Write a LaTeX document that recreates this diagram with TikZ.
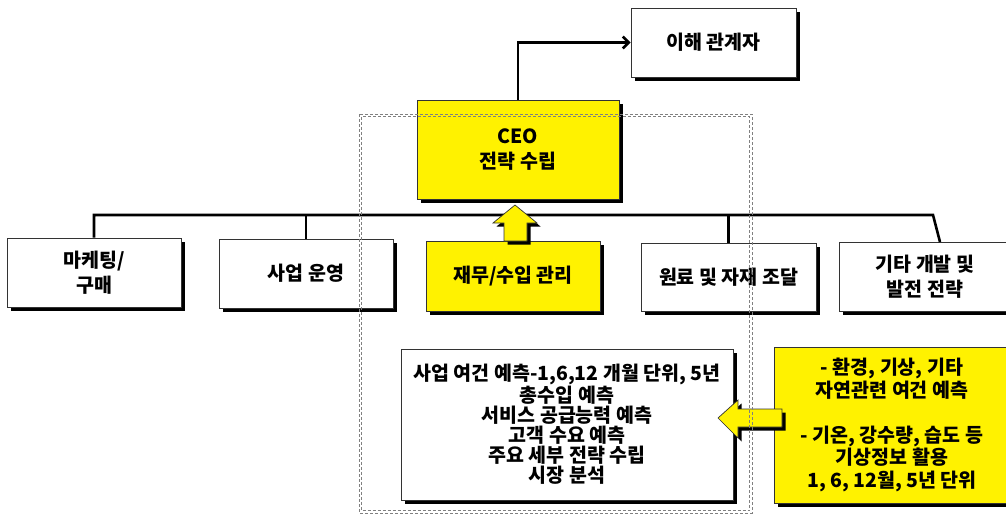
\documentclass[tikz,border=0pt]{standalone}
\usepackage{fontspec}
\setmainfont{Noto Sans CJK KR}
\usetikzlibrary{shadows,arrows.meta}
\tikzset{
  shad/.style={drop shadow={shadow xshift=3.5pt, shadow yshift=-3.5pt, fill=black, opacity=1}},
  box/.style={shad, draw=black!80, line width=0.7pt, fill=white, align=center, inner sep=2pt,
    font=\bfseries\fontsize{19.5}{24.5}\selectfont},
  ybox/.style={box, fill=yellow},
  conn/.style={line width=2.6pt, draw=black},
  barrow/.style={shad, draw=black!80, line width=0.7pt, fill=yellow, line join=miter},
  dbox/.style={draw=black!50, line width=0.6pt, dash pattern=on 3pt off 2pt},
}
\begin{document}
\begin{tikzpicture}[x=1pt,y=-1pt]
\useasboundingbox (0,0) rectangle (1006,517);
% nodes
\node[box, minimum width=165pt, minimum height=69pt] (stake) at (713.5,42.5) {이해 관계자};
\node[ybox, minimum width=202pt, minimum height=99pt] (ceo) at (518,149.5) {CEO\\전략 수립};
\node[box, minimum width=174pt, minimum height=69pt] (mkt) at (94,272.5) {마케팅/\\구매};
\node[box, minimum width=174pt, minimum height=69pt] (ops) at (306,273.5) {사업 운영};
\node[ybox, minimum width=174pt, minimum height=70pt] (fin) at (513,276) {재무/수입 관리};
\node[box, minimum width=175pt, minimum height=68pt] (mat) at (728.5,277) {원료 및 자재 조달};
\node[box, minimum width=172pt, minimum height=69pt] (etc) at (925,276.5) {기타 개발 및\\발전 전략};
\node[box, minimum width=332pt, minimum height=151pt, font=\bfseries\fontsize{19.5}{20}\selectfont] (ana) at (567,424.5)
  {사업 여건 예측-1,6,12 개월 단위, 5년\\총수입 예측\\서비스 공급능력 예측\\고객 수요 예측\\주요 세부 전략 수립\\시장 분석};
\node[ybox, minimum width=236pt, minimum height=156pt, font=\bfseries\fontsize{19.5}{22.5}\selectfont] (wx) at (892,425)
  {- 환경, 기상, 기타\\자연관련 여건 예측\\[22.5pt]- 기온, 강수량, 습도 등\\기상정보 활용\\1, 6, 12월, 5년 단위};
% connectors
\coordinate (busR) at (933,215);
\coordinate (etcTop) at (940,242);
\draw[conn] (mkt.north) |- (busR) -- (etcTop);
\draw[conn] (ops.north) -- (ops.north |- busR);
\draw[conn] (mat.north) -- (mat.north |- busR);
\draw[conn, -{Straight Barb[length=6pt,width=12pt]}] (ceo.north) |- (stake.west);
% block arrows
\draw[barrow] (515,205) -- (537,223) -- (527,223) -- (527,241) -- (504,241) -- (504,223) -- (493,223) -- cycle;
\draw[barrow] (718,418) -- (738,400) -- (738,409) -- (782,409) -- (782,427) -- (738,427) -- (738,438) -- cycle;
% dashed frame
\draw[dbox] (359,114) rectangle (752,513);
\draw[dbox] (361.5,116.5) rectangle (749.5,510.5);
\end{tikzpicture}
\end{document}
